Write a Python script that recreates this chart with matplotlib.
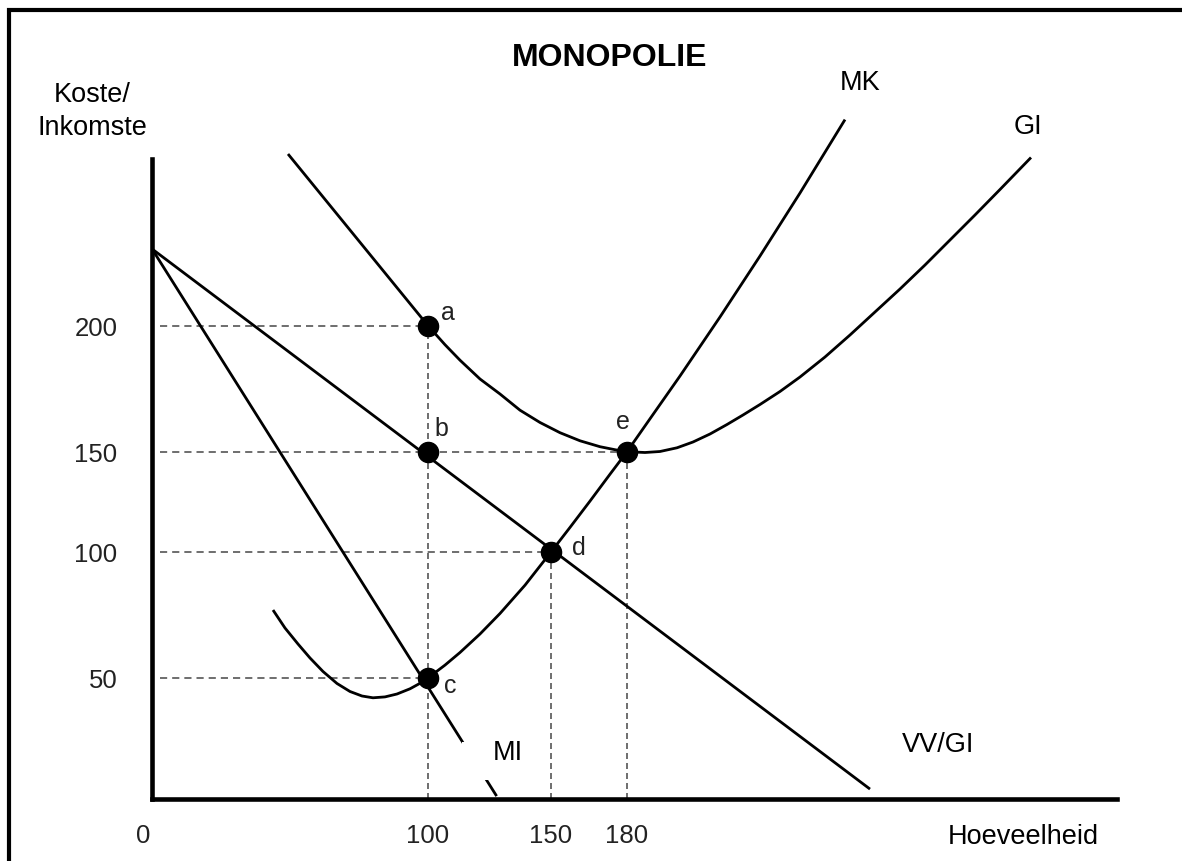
import numpy as np
import matplotlib
matplotlib.use("Agg")
import matplotlib.pyplot as plt
from matplotlib.patches import Rectangle
from matplotlib.transforms import ScaledTranslation

# ---------------- data ----------------
quantity_ticks = [0, 100, 150, 180]
quantity_labels = ["0", "100", "150", "180"]
price_ticks = [50, 100, 150, 200]
price_labels = ["50", "100", "150", "200"]

# GI (average cost) curve
ac_q = [49.28, 100, 106.91, 113.01, 121.14, 129.27, 137.40, 145.53, 153.55, 161.45,
        169.34, 175.26, 180, 187.2, 193.2, 200.0, 206.4, 213.2, 220.0, 226.4, 233.2,
        241.2, 249.2, 259.2, 269.2, 279.2, 289.2, 299.2, 309.2, 319.2, 329.2, 341.6]
ac_p = [271.54, 200, 192.46, 186.31, 178.85, 172.90, 166.47, 161.59, 157.54, 154.33,
        151.98, 150.79, 150, 149.60, 150.08, 151.55, 153.85, 157.02, 160.79, 164.56,
        168.73, 173.89, 179.64, 187.58, 196.31, 205.71, 215.29, 225.29, 235.71,
        246.13, 256.75, 270.08]

# MK (marginal cost) curve
mc_q = [43.84, 48.19, 52.90, 57.25, 61.96, 67.03, 71.74, 76.09, 80.07, 84.42, 88.77,
        93.48, 97.10, 100, 106.91, 113.01, 121.14, 129.27, 139.43, 150, 157.50,
        165.39, 173.29, 180, 189.2, 201.2, 217.2, 233.2, 249.2, 267.2]
mc_p = [76.98, 69.84, 63.49, 57.94, 52.58, 47.73, 44.42, 42.56, 41.82, 42.19, 43.39,
        45.54, 47.81, 50, 55.12, 60.12, 67.46, 75.60, 86.83, 100, 112.26, 125.37,
        138.78, 150, 163.06, 180.04, 203.63, 229.04, 255.29, 285.88]

# VV/GI (demand / average revenue) and MI (marginal revenue)
demand_q = [0, 277.2]
demand_p = [232.0, 4.1]
mr_q = [0, 127.9]
mr_p = [232.0, 1.2]

# marked points
point_names = ["a", "b", "c", "d", "e"]
point_q = [100, 100, 100, 150, 180]
point_p = [200, 150, 50, 100, 150]

# horizontal guide lines: price level -> quantity where it stops
guide_h_p = [200, 150, 100, 50]
guide_h_q = [100, 180, 150, 100]
# vertical guide lines: quantity -> price where it stops
guide_v_q = [100, 150, 180]
guide_v_p = [200, 100, 150]

# ---------------- figure ----------------
W, H = 1182, 862
plt.rcParams["font.family"] = ["Liberation Sans", "DejaVu Sans"]
fig = plt.figure(figsize=(W / 100, H / 100), dpi=100)
ax = fig.add_axes([0, 0, 1, 1])
ax.set_facecolor("none")

# hand-drawn (non-uniform) axis spacing of the original diagram
xkn_d = np.array([-100, 0, 100, 150, 180, 500.0])
xkn_p = np.array([-124, 152, 428, 551, 627, 1427.0])
ykn_d = np.array([-100, 0, 50, 100, 150, 200, 400.0])
ykn_p = H - np.array([1042, 800, 679, 553, 452.7, 326.7, -153.3])

fx = lambda v: np.interp(v, xkn_d, xkn_p)
ix = lambda t: np.interp(t, xkn_p, xkn_d)
fy = lambda v: np.interp(v, ykn_d, ykn_p)
iy = lambda t: np.interp(t, ykn_p, ykn_d)
ax.set_xscale("function", functions=(fx, ix))
ax.set_yscale("function", functions=(fy, iy))
ax.set_xlim(float(ix(0)), float(ix(W)))
ax.set_ylim(float(iy(0)), float(iy(H)))

# axes lines
for s in ["top", "right"]:
    ax.spines[s].set_visible(False)
ax.spines["left"].set_position(("data", 0))
ax.spines["bottom"].set_position(("data", 0))
ax.spines["left"].set_bounds(0, float(iy(H - 160)))
ax.spines["bottom"].set_bounds(0, float(ix(1117)))
for s in ["left", "bottom"]:
    ax.spines[s].set_linewidth(3.3)
    ax.spines[s].set_capstyle("projecting")
    ax.spines[s].set_zorder(6)

ax.set_xticks(quantity_ticks)
ax.set_xticklabels(quantity_labels)
ax.set_yticks(price_ticks)
ax.set_yticklabels(price_labels)
ax.minorticks_off()
ax.tick_params(axis="both", length=0, labelsize=18.5, labelcolor="#222222")
ax.tick_params(axis="x", pad=17)
ax.tick_params(axis="y", pad=25)
zero_lbl = ax.get_xticklabels()[0]
zero_lbl.set_transform(zero_lbl.get_transform() + ScaledTranslation(-9 / 100, 0, fig.dpi_scale_trans))

# guide lines
gcol = "#555555"
for p, q in zip(guide_h_p, guide_h_q):
    ln, = ax.plot([3, q], [p, p], color=gcol, lw=1.2, zorder=1)
    ln.set_dashes((4.3, 3.0))
for q, p in zip(guide_v_q, guide_v_p):
    ln, = ax.plot([q, q], [0, p], color=gcol, lw=1.2, zorder=1)
    ln.set_dashes((3.6, 2.4))

# curves
lw = 2.0
style = dict(color="black", lw=lw, zorder=2, solid_capstyle="butt", solid_joinstyle="round")
ax.plot(ac_q, ac_p, clip_on=False, **style)
ax.plot(mc_q, mc_p, clip_on=False, **style)
ax.plot(demand_q, demand_p, **style)
ax.plot(mr_q, mr_p, **style)

# white gap behind the MI label
ax.add_patch(Rectangle((113.8, 7.9), 147.6 - 113.8, 23.6 - 7.9,
                       facecolor="white", edgecolor="none", zorder=3))

# points
ax.plot(point_q, point_p, "o", color="black", ms=14.5, zorder=5)
offsets = {"a": (14.4, 9.9), "b": (9.4, 17.1), "c": (15.8, -5.0),
           "d": (20.2, 3.6), "e": (-2.9, 22.1)}
for n, q, p in zip(point_names, point_q, point_p):
    ax.annotate(n, (q, p), xytext=offsets[n], textcoords="offset points",
                ha="center", va="center", fontsize=18, color="#222222", zorder=6)

# texts (figure pixel positions)
def fpx(x, y):
    return x / W, 1 - y / H

fig.text(*fpx(610, 58), "MONOPOLIE", ha="center", va="center", fontsize=23,
         fontweight="bold", color="black")
fig.text(*fpx(92, 95), "Koste/", ha="center", va="center", fontsize=19.5)
fig.text(*fpx(92, 128), "Inkomste", ha="center", va="center", fontsize=19.5)
fig.text(*fpx(860, 83), "MK", ha="center", va="center", fontsize=19.5)
fig.text(*fpx(1028, 127), "GI", ha="center", va="center", fontsize=19.5)
fig.text(*fpx(938, 745), "VV/GI", ha="center", va="center", fontsize=19.5)
fig.text(*fpx(508, 753), "MI", ha="center", va="center", fontsize=19.5, zorder=7)
fig.text(*fpx(1023, 837), "Hoeveelheid", ha="center", va="center", fontsize=19.5)

# outer frame (left and top edges visible)
fig.add_artist(Rectangle((9.5 / W, -0.5), 2.0, 0.5 + 1 - 10.5 / H,
                         transform=fig.transFigure, fill=False,
                         edgecolor="black", linewidth=3.0))

fig.savefig("out.png", dpi=100, facecolor="white")
